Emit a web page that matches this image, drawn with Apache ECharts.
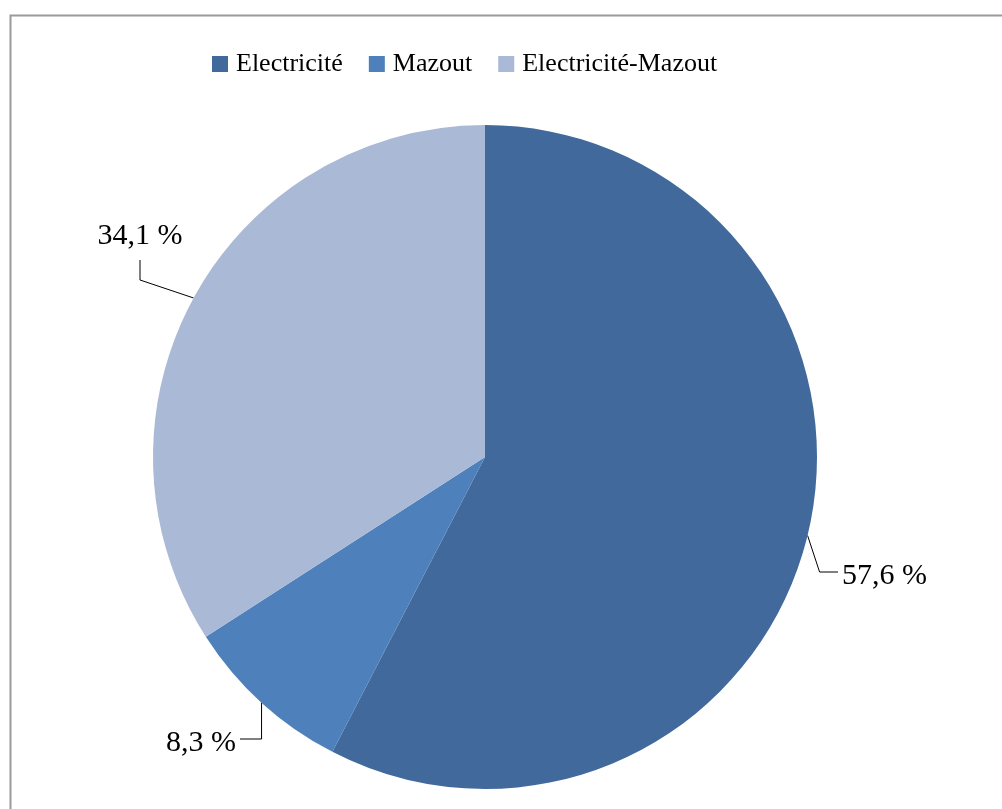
<!DOCTYPE html>
<html>
<head>
<meta charset="utf-8">
<style>
  html, body { margin: 0; padding: 0; background: #ffffff; }
  #chart { width: 1002px; height: 809px; }
</style>
<script src="https://cdn.jsdelivr.net/npm/echarts@6/dist/echarts.min.js"></script>
</head>
<body>
<div id="chart"></div>
<script>
// Heating energy sources, share of households (%)
const categories = ['Electricité', 'Mazout', 'Electricité-Mazout'];
const shares = [57.6, 8.3, 34.1];
const sliceColors = ['#41699B', '#4E80BC', '#AAB9D6'];

const fmt = v => v.toFixed(1).replace('.', ',') + ' %';

// Label anchor per slice: text position plus the elbow of its leader line
const labelPlacement = [
  { x: 842, y: 576, align: 'left',  line: p => [[p[0] + 12, 572], [838, 572]] },
  { x: 236, y: 743, align: 'right', line: p => [[p[0], 739], [240, 739]] },
  { x: 140, y: 236, align: 'center', line: p => [[140, 280], [140, 260]] }
];

const chart = echarts.init(document.getElementById('chart'), null, { renderer: 'canvas' });

chart.setOption({
  animation: false,
  backgroundColor: '#ffffff',
  color: sliceColors,
  graphic: [{
    type: 'rect',
    left: 8, top: 13,
    shape: { width: 1100, height: 900 },
    style: { fill: 'none', stroke: '#9a9a9a', lineWidth: 2 },
    z: -1
  }],
  legend: {
    data: categories,
    left: 212,
    top: 51,
    padding: 0,
    itemWidth: 16,
    itemHeight: 16,
    itemGap: 26,
    icon: 'rect',
    textStyle: {
      fontFamily: 'Liberation Serif',
      fontSize: 26,
      color: '#000000',
      padding: [0, 0, 0, 3]
    }
  },
  series: [{
    type: 'pie',
    center: [485, 457],
    radius: 332,
    startAngle: 90,
    clockwise: true,
    avoidLabelOverlap: false,
    data: categories.map((name, i) => ({ name, value: shares[i] })),
    label: {
      show: true,
      formatter: p => fmt(p.value),
      fontFamily: 'Liberation Serif',
      fontSize: 30,
      color: '#000000'
    },
    labelLine: {
      show: true,
      length: 20,
      length2: 20,
      lineStyle: { color: '#000000', width: 1 }
    },
    labelLayout: params => {
      const place = labelPlacement[params.dataIndex];
      const start = params.labelLinePoints[0];
      const rest = place.line(start);
      return {
        x: place.x,
        y: place.y,
        align: place.align,
        verticalAlign: 'middle',
        labelLinePoints: [start, rest[0], rest[1]]
      };
    },
    itemStyle: { borderWidth: 0 },
    emphasis: { disabled: true }
  }]
});
</script>
</body>
</html>
